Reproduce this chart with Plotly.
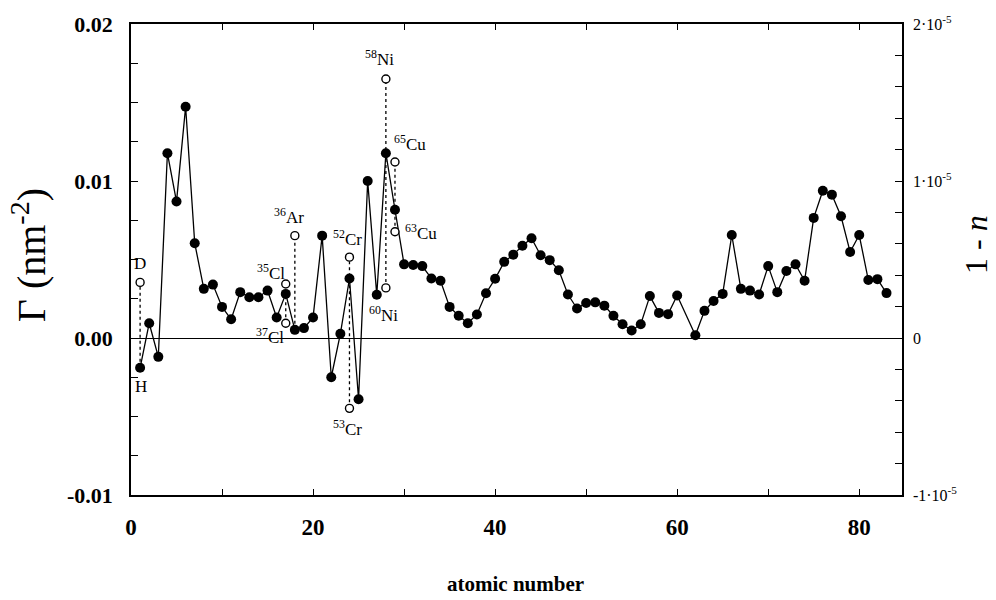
import plotly.graph_objects as go

# ---- data ----
atomic_number = list(range(1, 61)) + list(range(62, 84))
gamma = [
    -0.0019, 0.00094, -0.0012, 0.01177, 0.00869, 0.01473, 0.00604, 0.00313, 0.0034, 0.00198,
    0.00119, 0.00292, 0.0026, 0.0026, 0.00302, 0.00131, 0.00281, 0.00052, 0.00063, 0.00131,
    0.00652, -0.0025, 0.00027, 0.00379, -0.0039, 0.0100, 0.00275, 0.01177, 0.00817, 0.00469,
    0.00465, 0.00458, 0.00379, 0.00365, 0.00198, 0.00142, 0.00094, 0.0015, 0.00285, 0.00377,
    0.00485, 0.00531, 0.00588, 0.00635, 0.00527, 0.00496, 0.00431, 0.00277, 0.00188, 0.00223,
    0.00227, 0.00206, 0.00142, 0.00088, 0.00048, 0.00088, 0.00267, 0.0016, 0.00152, 0.00271,
    0.00017, 0.00173, 0.00236, 0.00281, 0.00656, 0.00313, 0.00302, 0.00277, 0.00458, 0.00292,
    0.00427, 0.00469, 0.00365, 0.00765, 0.00938, 0.00913, 0.00775, 0.00548, 0.00656, 0.00369,
    0.00375, 0.00286,
]

iso_names = ["D", "<sup>35</sup>Cl", "<sup>37</sup>Cl", "<sup>36</sup>Ar", "<sup>52</sup>Cr",
             "<sup>53</sup>Cr", "<sup>58</sup>Ni", "<sup>60</sup>Ni", "<sup>65</sup>Cu", "<sup>63</sup>Cu"]
iso_z = [1, 17, 17, 18, 24, 24, 28, 28, 29, 29]
iso_gamma = [0.00354, 0.00344, 0.00094, 0.00652, 0.00515, -0.00448, 0.0165, 0.00319, 0.01121, 0.00677]
# label offsets in pixels (dx, dy up)
iso_label_shift = [(0, 19), (-15, 12), (-16, -13), (-6, 20), (-2, 19), (-2, -20), (-6, 21), (-2, -26), (15, 19), (26, 0)]

x_ticks = list(range(0, 81, 10))
x_ticklabels = ["0", "", "20", "", "40", "", "60", "", "80"]
y_ticks = [-0.01 + 0.0025 * i for i in range(13)]
y_ticklabels = ["-0.01", "", "", "", "0.00", "", "", "", "0.01", "", "", "", "0.02"]
y2_ticks = [-1e-5 + 2e-6 * i for i in range(16)]
y2_ticklabels = ["-1·10<sup>-5</sup>", "", "", "", "", "0", "", "", "", "", "1·10<sup>-5</sup>",
                 "", "", "", "", "2·10<sup>-5</sup>"]

SERIF = "Liberation Serif"

fig = go.Figure()

# dotted connectors between isotopes and element value
gx, gy = [], []
for z in sorted(set(iso_z)):
    vals = [g for zz, g in zip(iso_z, iso_gamma) if zz == z]
    vals.append(gamma[atomic_number.index(z)])
    gx += [z, z, None]
    gy += [min(vals), max(vals), None]
fig.add_trace(go.Scatter(x=gx, y=gy, mode="lines",
                         line=dict(color="black", width=1.3, dash="dot"),
                         hoverinfo="skip", showlegend=False))

fig.add_trace(go.Scatter(x=atomic_number, y=gamma, mode="lines+markers",
                         line=dict(color="black", width=1.3),
                         marker=dict(color="black", size=10),
                         showlegend=False))

fig.add_trace(go.Scatter(x=iso_z, y=iso_gamma, mode="markers",
                         marker=dict(color="white", size=8, line=dict(color="black", width=1.4)),
                         showlegend=False))

# invisible trace to activate right axis
fig.add_trace(go.Scatter(x=[0], y=[0], yaxis="y2", mode="markers",
                         marker=dict(opacity=0), hoverinfo="skip", showlegend=False))

annotations = []
for name, z, g, (dx, dy) in zip(iso_names, iso_z, iso_gamma, iso_label_shift):
    annotations.append(dict(x=z, y=g, xref="x", yref="y", text=name, showarrow=False,
                            xanchor="center", yanchor="middle",
                            xshift=dx, yshift=dy, font=dict(family=SERIF, size=17, color="black")))
annotations.append(dict(x=atomic_number[0], y=gamma[0], xref="x", yref="y", text="H",
                        showarrow=False, xshift=1, yshift=-19, xanchor="center", yanchor="middle",
                        font=dict(family=SERIF, size=17, color="black")))

# axis titles
annotations.append(dict(x=-0.1317, y=0.51, xref="paper", yref="paper", text="Γ (nm<sup>-2</sup>)",
                        textangle=-90, showarrow=False, xanchor="center", yanchor="middle",
                        font=dict(family=SERIF, size=40, color="black")))
annotations.append(dict(x=1.096, y=0.531, xref="paper", yref="paper", text="1 - <i>n</i>",
                        textangle=-90, showarrow=False, xanchor="center", yanchor="middle",
                        font=dict(family=SERIF, size=32, color="black")))
annotations.append(dict(x=0.499, y=-0.19, xref="paper", yref="paper", text="atomic number",
                        showarrow=False, xanchor="center", yanchor="middle",
                        font=dict(family=SERIF, size=21, color="black", weight="bold")))

fig.update_layout(
    width=996, height=600,
    margin=dict(l=131, r=94, t=15, b=105),
    paper_bgcolor="white", plot_bgcolor="white",
    annotations=annotations,
    xaxis=dict(range=[0, 84.7], tickvals=x_ticks, ticktext=x_ticklabels,
               ticks="inside", ticklen=6, tickwidth=1.2, tickcolor="black",
               showline=True, linecolor="black", linewidth=1.5, mirror="ticks",
               showgrid=False, zeroline=False, ticklabelstandoff=11,
               tickfont=dict(family=SERIF, size=23, color="black", weight="bold")),
    yaxis=dict(range=[-0.01, 0.02], tickvals=y_ticks, ticktext=y_ticklabels,
               ticks="inside", ticklen=7, tickwidth=1.2, tickcolor="black",
               showline=True, linecolor="black", linewidth=1.5,
               showgrid=False, zeroline=True, zerolinecolor="black", zerolinewidth=1.3,
               ticklabelstandoff=12,
               tickfont=dict(family=SERIF, size=22, color="black", weight="bold")),
    yaxis2=dict(range=[-1e-5, 2e-5], overlaying="y", side="right",
                tickvals=y2_ticks, ticktext=y2_ticklabels,
                ticks="inside", ticklen=7, tickwidth=1.2, tickcolor="black",
                showline=True, linecolor="black", linewidth=1.5,
                showgrid=False, zeroline=False, ticklabelstandoff=6,
                tickfont=dict(family=SERIF, size=16, color="black")),
)

fig.write_html("out.html")
